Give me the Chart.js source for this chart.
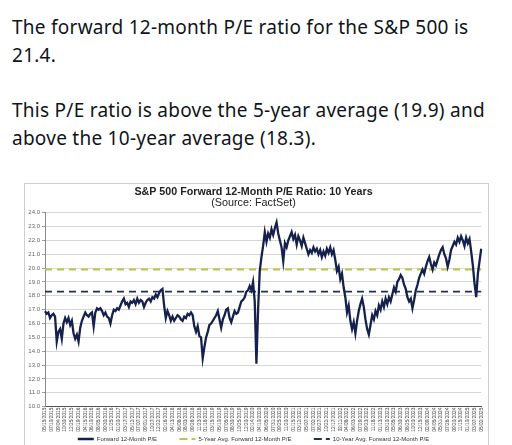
<!DOCTYPE html>
<html>
<head>
<meta charset="utf-8">
<script src="https://cdn.jsdelivr.net/npm/chart.js@4.4.1/dist/chart.umd.min.js"></script>
<style>
  html, body { margin: 0; padding: 0; background: #fff; }
  body { width: 512px; height: 445px; overflow: hidden; position: relative; }
  .tweet {
    position: absolute; left: 12px;
    font-family: "Noto Sans", sans-serif; font-size: 19px; line-height: 28px;
    letter-spacing: 0.26px;
    color: #0f1419; white-space: nowrap;
  }
  #p1 { top: 13px; }
  #p2 { top: 96px; }
  #box {
    position: absolute; left: 24px; top: 183px; width: 463px; height: 280px;
    border: 1px solid #cfcfcf;
  }
  #chartWrap { position: absolute; left: 0; top: 0; width: 463px; height: 268px; }
</style>
</head>
<body>
<div class="tweet" id="p1">The forward 12-month P/E ratio for the S&amp;P 500 is<br>21.4.</div>
<div class="tweet" id="p2">This P/E ratio is above the 5-year average (19.9) and<br>above the 10-year average (18.3).</div>
<div id="box"><div id="chartWrap"><canvas id="pe-chart"></canvas></div></div>
<script>
// forward 12-month P/E, one value every two weeks, starting 05/15/2015
var pe2015 = [16.9, 16.7, 16.8, 16.4, 16.6, 16.7, 16.5, 14.7, 15.4, 15.6, 14.9, 16.0, 16.4,
  16.1, 16.4, 15.9, 16.2, 15.3, 14.9, 15.2, 14.7, 15.7, 16.2, 16.5, 16.8, 16.6];
var pe2016 = [16.5, 16.7, 16.8, 15.8, 16.8, 17.1, 17.0, 17.1, 16.9, 16.6, 16.8, 16.5, 16.4,
  16.0, 16.6, 17.0, 16.9, 17.1, 17.0, 17.3, 17.6, 17.8, 17.4, 17.5, 17.2, 17.6];
var pe2017 = [17.5, 17.7, 17.4, 17.8, 17.5, 17.7, 17.6, 17.2, 17.5, 17.7, 17.8, 17.6, 17.9,
  17.8, 18.1, 17.9, 18.2, 18.4, 18.5, 17.3, 16.4, 16.9, 16.6, 16.2, 16.5, 16.2];
var pe2018 = [16.4, 16.6, 16.5, 16.3, 16.2, 16.5, 16.4, 16.7, 16.6, 16.8, 16.6, 15.8, 15.4,
  15.8, 15.1, 15.0, 13.5, 14.3, 15.0, 15.4, 15.9, 16.0, 16.2, 16.4, 16.6, 16.9];
var pe2019 = [16.3, 15.7, 16.3, 16.6, 17.0, 17.1, 16.4, 16.1, 16.5, 16.9, 16.7, 16.8, 17.2,
  17.6, 17.7, 17.9, 18.3, 18.4, 18.7, 18.4, 19.0, 17.6, 13.1, 17.0, 19.8, 20.8];
var pe2020 = [21.6, 22.6, 21.9, 22.5, 22.2, 22.8, 22.4, 22.9, 23.3, 22.5, 22.0, 21.5, 20.5,
  21.8, 21.5, 22.0, 22.3, 22.6, 22.1, 22.4, 21.7, 22.3, 22.0, 21.6, 22.2, 21.8];
var pe2021 = [21.4, 21.0, 21.3, 21.1, 21.5, 21.2, 21.4, 21.0, 21.3, 20.8, 21.2, 20.9, 21.4,
  21.1, 21.5, 21.0, 21.3, 20.6, 19.8, 20.1, 19.2, 19.6, 18.6, 17.9, 16.8, 17.3];
var pe2022 = [16.2, 15.6, 16.1, 15.3, 16.2, 16.9, 17.4, 17.8, 17.2, 16.3, 15.6, 15.2, 15.9,
  16.6, 16.3, 16.9, 16.6, 17.3, 17.0, 17.6, 17.2, 17.8, 17.4, 17.9, 17.6, 18.1];
var pe2023 = [18.6, 18.3, 19.0, 19.2, 19.5, 19.3, 18.8, 18.5, 17.9, 17.6, 17.8, 17.1, 17.7,
  18.4, 18.8, 19.3, 19.6, 19.9, 19.6, 20.1, 20.5, 20.8, 20.3, 19.9, 20.4, 20.2];
var pe2024 = [20.6, 21.0, 21.3, 21.5, 21.0, 20.7, 20.1, 20.6, 21.3, 21.6, 21.9, 21.7, 22.2,
  21.9, 22.3, 22.0, 21.6, 22.2, 21.8, 22.1, 21.2, 20.2, 18.9, 17.9, 19.6, 20.5, 21.4];

var forwardPE = [].concat(pe2015, pe2016, pe2017, pe2018, pe2019, pe2020, pe2021, pe2022, pe2023, pe2024);
var fiveYearAvg = 19.9;
var tenYearAvg = 18.3;

var seriesNames = ["Forward 12-Month P/E", "5-Year Avg. Forward 12-Month P/E", "10-Year Avg. Forward 12-Month P/E"];

function pad2(n) { return (n < 10 ? '0' : '') + n; }
var dates = forwardPE.map(function (v, i) {
  var d = new Date(2015, 4, 15 + i * 14);
  return pad2(d.getMonth() + 1) + '/' + pad2(d.getDate()) + '/' + d.getFullYear();
});

var chartFont = "'Liberation Sans', Arial, sans-serif";

new Chart(document.getElementById("pe-chart"), {
  type: 'line',
  data: {
    labels: dates,
    datasets: [{
        label: seriesNames[0],
        data: forwardPE,
        borderColor: "#15214c",
        backgroundColor: "#15214c",
        borderWidth: 2.3,
        pointRadius: 0,
        tension: 0,
        fill: false
      },
      {
        label: seriesNames[1],
        data: dates.map(function () { return fiveYearAvg; }),
        borderColor: "#bfc44a",
        backgroundColor: "#bfc44a",
        borderWidth: 1.8,
        borderDash: [7, 5],
        pointRadius: 0,
        fill: false
      },
      {
        label: seriesNames[2],
        data: dates.map(function () { return tenYearAvg; }),
        borderColor: "#1f2f5f",
        backgroundColor: "#1f2f5f",
        borderWidth: 1.8,
        borderDash: [7, 5],
        pointRadius: 0,
        fill: false
      }
    ]
  },
  options: {
    responsive: true,
    maintainAspectRatio: false,
    animation: false,
    layout: { padding: { left: 0, right: 6, top: 0, bottom: 0 } },
    plugins: {
      title: {
        display: true,
        text: 'S&P 500 Forward 12-Month P/E Ratio: 10 Years',
        color: '#222',
        font: { family: chartFont, size: 10.7, weight: 'bold', lineHeight: 1 },
        padding: { top: 3, bottom: 0 }
      },
      subtitle: {
        display: true,
        text: '(Source: FactSet)',
        color: '#222',
        font: { family: chartFont, size: 10.8, lineHeight: 1 },
        padding: { top: 0, bottom: 4.2 }
      },
      legend: {
        position: 'bottom',
        labels: {
          color: '#333',
          font: { family: chartFont, size: 6 },
          boxWidth: 16,
          boxHeight: 0,
          padding: 4,
          // wider gaps between the three entries
          generateLabels: function (chart) {
            var items = Chart.defaults.plugins.legend.labels.generateLabels(chart);
            items.forEach(function (item, i) {
              if (i < items.length - 1) item.text += '\u00a0\u00a0\u00a0\u00a0\u00a0\u00a0\u00a0\u00a0\u00a0\u00a0\u00a0';
            });
            return items;
          }
        }
      },
      tooltip: { enabled: false }
    },
    scales: {
      x: {
        afterFit: function (scale) { scale.height = 25.3; },
        grid: { display: false, drawTicks: false },
        border: { color: '#555', width: 1 },
        ticks: {
          autoSkip: false,
          minRotation: 90,
          maxRotation: 90,
          padding: 1,
          color: '#444',
          font: { family: chartFont, size: 4.8 },
          callback: function (value, index) {
            return index % 4 === 0 ? this.getLabelForValue(value) : '';
          }
        }
      },
      y: {
        min: 10,
        max: 24,
        afterFit: function (scale) { scale.width = 20; },
        grid: { color: '#d6d6d6', tickLength: 3, tickColor: '#999' },
        border: { color: '#888', width: 1 },
        ticks: {
          stepSize: 1,
          padding: 2,
          color: '#666',
          font: { family: chartFont, size: 6 },
          callback: function (value) { return value.toFixed(1); }
        }
      }
    }
  }
});
</script>
</body>
</html>
